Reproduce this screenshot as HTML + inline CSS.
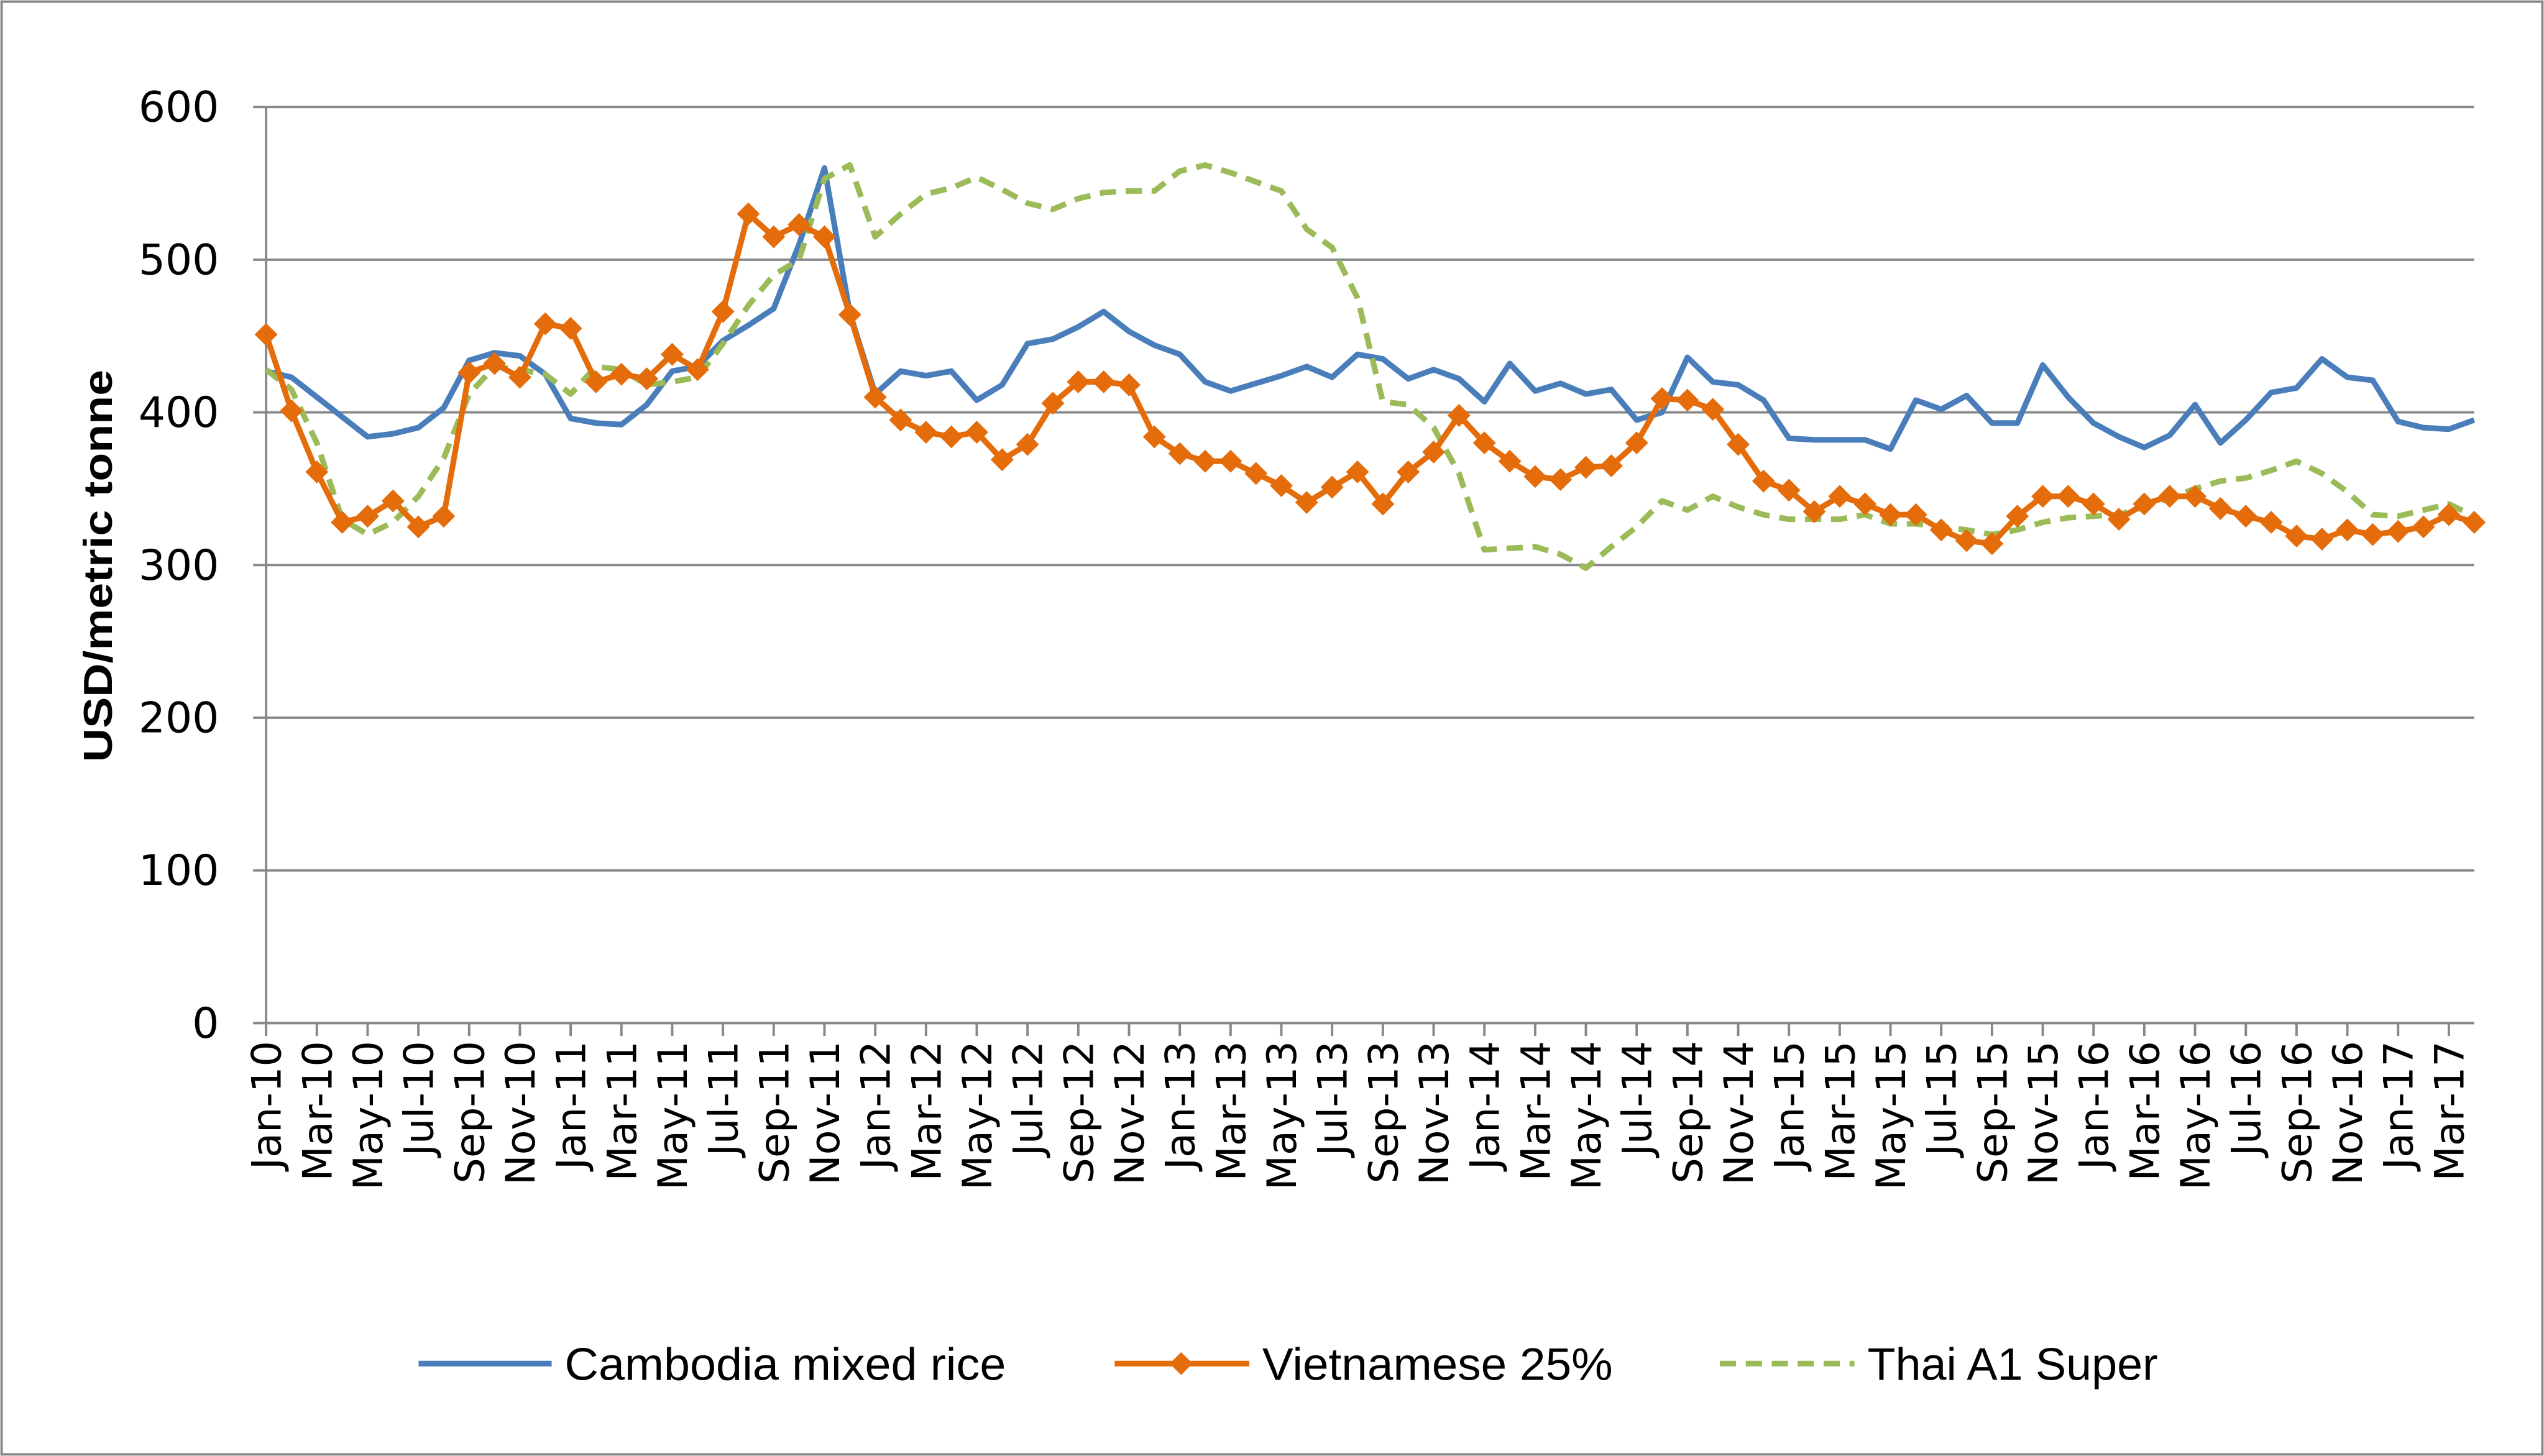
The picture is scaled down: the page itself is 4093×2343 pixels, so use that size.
<!DOCTYPE html>
<html><head><meta charset="utf-8"><style>
html,body{margin:0;padding:0;background:#fff;}
svg{display:block;font-family:"DejaVu Sans",sans-serif;}
</style></head><body>
<svg id="chart" width="4093" height="2343" viewBox="0 0 1568 898" preserveAspectRatio="none" xmlns="http://www.w3.org/2000/svg">
<rect x="1" y="1" width="1566" height="896" fill="#fff" stroke="#888" stroke-width="1.5"/>
<g id="grid"></g><g id="axes"></g><g id="series"></g>
<text transform="translate(69,349) rotate(-90)" text-anchor="middle" font-size="25" font-weight="bold" fill="#000" font-family="Liberation Sans, sans-serif" textLength="242" lengthAdjust="spacingAndGlyphs">USD/metric tonne</text>
<g font-family="Liberation Sans, sans-serif">
<line x1="258" y1="841" x2="340" y2="841" stroke="#4a7ebb" stroke-width="3.5"/>
<text x="348" y="851" font-size="28" textLength="272" lengthAdjust="spacingAndGlyphs">Cambodia mixed rice</text>
<line x1="687" y1="841" x2="770" y2="841" stroke="#e46c0a" stroke-width="3.5"/>
<rect x="723" y="836" width="10" height="10" fill="#e46c0a" transform="rotate(45 728 841)"/>
<text x="778" y="851" font-size="28" textLength="216" lengthAdjust="spacingAndGlyphs">Vietnamese 25%</text>
<line x1="1060" y1="841" x2="1143" y2="841" stroke="#9bbb59" stroke-width="3.5" stroke-dasharray="10,6"/>
<text x="1151" y="851" font-size="28" textLength="179" lengthAdjust="spacingAndGlyphs">Thai A1 Super</text>
</g>
</svg>
<script>
const months = ["Jan","Feb","Mar","Apr","May","Jun","Jul","Aug","Sep","Oct","Nov","Dec"];
const yTicks = [0,100,200,300,400,500,600];
const cambodia = [427,423,410,397,384,386,390,403,434,439,437,425,
396,393,392,405,427,430,447,457,468,510,560,465,
412,427,424,427,408,418,445,448,456,466,453,444,
438,420,414,419,424,430,423,438,435,422,428,422,
407,432,414,419,412,415,395,400,436,420,418,408,
383,382,382,382,376,408,402,411,393,393,431,410,
393,384,377,385,405,380,395,413,416,435,423,421,
394,390,389,395];
const vietnam = [451,401,361,328,332,342,325,332,426,432,423,458,
455,420,425,422,438,428,466,530,515,523,515,464,
410,395,387,384,387,369,379,406,420,420,418,384,
373,368,368,360,352,341,351,361,340,361,374,398,
380,368,358,356,364,365,380,409,408,402,379,355,
349,335,345,340,333,333,323,316,314,332,345,345,
340,330,340,345,345,337,332,328,319,317,323,320,
322,325,333,328];
const thai = [428,415,380,330,320,328,345,370,412,430,428,425,
412,430,428,418,420,423,445,470,490,500,553,562,
515,530,543,547,554,546,537,533,540,544,545,545,
558,562,557,551,545,520,508,475,407,405,390,360,
310,311,312,307,298,312,325,342,336,345,338,333,
330,330,330,333,327,327,325,323,320,323,328,331,
332,333,338,344,350,355,357,362,368,360,348,333,
332,336,340,332];
const categories = cambodia.map((_,i)=>months[i%12]+"-"+(10+Math.floor(i/12)));
const NS="http://www.w3.org/2000/svg";
const X0=164, X1=1525, Y0=631, Y600=66;
const xs=i=>X0+i*(X1-X0)/(categories.length-1);
const ys=v=>Y0-(v/600)*(Y0-Y600);
function mk(tag,attrs,parent){const e=document.createElementNS(NS,tag);for(const k in attrs)e.setAttribute(k,attrs[k]);parent.appendChild(e);return e;}
const grid=document.getElementById('grid'),axes=document.getElementById('axes'),ser=document.getElementById('series');
yTicks.forEach(t=>{
  const l=mk('line',{x1:X0-8,x2:X1,y1:ys(t),y2:ys(t),stroke:'#888','stroke-width':1.5},grid);
  
  
  const tx=mk('text',{x:135,y:ys(t)+9,'text-anchor':'end','font-size':26},axes);
  tx.textContent=t;
  
  
});
const ya=mk('line',{x1:X0,x2:X0,y1:Y600,y2:Y0,stroke:'#888','stroke-width':1.5},axes);


categories.forEach((c,i)=>{
  if(i%2) return;
  const x=xs(i);
  const tk=mk('line',{x1:x,x2:x,y1:Y0,y2:Y0+8,stroke:'#888','stroke-width':1.5},axes);
  
  
  const t=mk('text',{transform:`translate(${x+9},642) rotate(-90)`,'text-anchor':'end','font-size':25},axes);
  t.textContent=c;
  
  
});
function line(data,color,name,dash){
  const p=mk('polyline',{points:data.map((v,i)=>xs(i)+','+ys(v)).join(' '),fill:'none',stroke:color,'stroke-width':3.5,'stroke-linejoin':'round'},ser);
  if(dash)p.setAttribute('stroke-dasharray',dash);
  
  
}
line(cambodia,'#4a7ebb','cambodia-line');
line(thai,'#9bbb59','thai-line','10,6');
line(vietnam,'#e46c0a','vietnam-line');
vietnam.forEach((v,i)=>{
  const m=mk('rect',{x:xs(i)-5,y:ys(v)-5,width:10,height:10,fill:'#e46c0a',transform:`rotate(45 ${xs(i)} ${ys(v)})`},ser);
  
  
});
</script>
</body></html>
